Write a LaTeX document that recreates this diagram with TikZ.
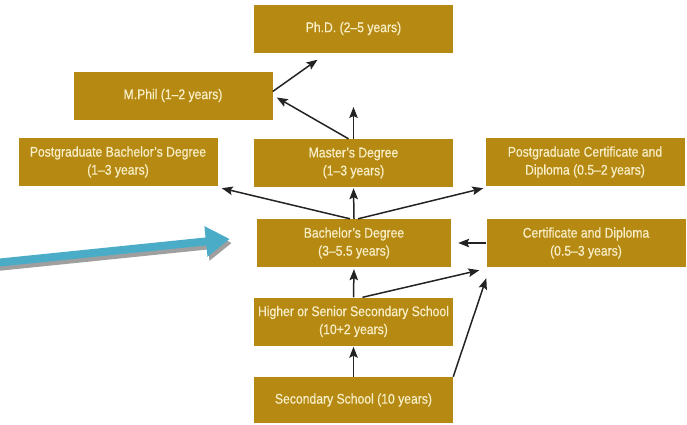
\documentclass[tikz,border=0pt]{standalone}
\usepackage{fontspec}
\usepackage{tikz}
\usetikzlibrary{arrows.meta,calc}
\newfontfamily\boxfont[FakeStretch=0.87,FakeBold=0.5]{Liberation Sans}
\definecolor{gold}{RGB}{182,138,18}
\definecolor{cream}{RGB}{248,238,200}
\definecolor{skyblue}{RGB}{74,172,198}
\definecolor{inkgray}{RGB}{35,35,35}

\begin{document}
\begin{tikzpicture}[x=1pt,y=-1pt,
  box/.style={fill=gold, text=cream, minimum width=199pt, minimum height=48pt, inner sep=0pt, align=center, font=\boxfont\fontsize{14}{18}\selectfont},
  link/.style={-{Stealth[length=11pt,width=8.5pt,inset=2pt]}, line width=1.5pt, color=inkgray},
  pointer/.style={line width=8pt, -{Triangle[length=24pt,width=29pt]}}]
\useasboundingbox (0,0) rectangle (687,424);
\node[box] (phd) at (353.5,28.5) {Ph.D. (2–5 years)};
\node[box] (mphil) at (173,95.5) {M.Phil (1–2 years)};
\node[box] (pgbach) at (118,162) {Postgraduate Bachelor’s Degree\\(1–3 years)};
\node[box] (master) at (353.5,163) {Master’s Degree\\(1–3 years)};
\node[box] (pgcert) at (585,162) {Postgraduate Certificate and\\Diploma (0.5–2 years)};
\node[box, minimum width=194pt] (bach) at (354,243) {Bachelor’s Degree\\(3–5.5 years)};
\node[box] (cert) at (586,243) {Certificate and Diploma\\(0.5–3 years)};
\node[box] (higher) at (353.5,321.5) {Higher or Senior Secondary School\\(10+2 years)};
\node[box, minimum height=46pt] (sec) at (353.5,400) {Secondary School (10 years)};
\coordinate (gap) at (353.5,107);
\coordinate (tail) at (-5,263);
\coordinate (aim) at ($(bach.west)+(-27,-4)$);
\draw[link] ($(mphil.east)+(0,-4)$) -- ($(phd.south)+(-36,7)$);
\draw[link] ($(master.north)+(-5,0)$) -- ($(mphil.east)+(4,2)$);
\draw[link] (master.north) -- (gap);
\draw[link, shorten >=1pt] (bach.north) -- (master.south);
\draw[link] ($(bach.north)+(-4,0)$) -- ($(pgbach.south east)+(4,2)$);
\draw[link] ($(bach.north)+(4,0)$) -- ($(pgcert.south west)+(-2,2)$);
\draw[link] (cert.west) -- ($(bach.east)+(7,0)$);
\draw[link, shorten >=2pt] (higher.north) -- (bach.south);
\draw[link] ($(higher.north)+(9,0)$) -- ($(cert.south west)+(-7,3)$);
\draw[link, shorten >=1pt] (sec.north) -- (higher.south);
\draw[link] (sec.north east) -- ($(cert.south west)+(0,11)$);
\draw[pointer, color=gray!75] ($(tail)+(2,4)$) -- ($(aim)+(2,4)$);
\draw[pointer, color=skyblue] (tail) -- (aim);
\end{tikzpicture}
\end{document}
